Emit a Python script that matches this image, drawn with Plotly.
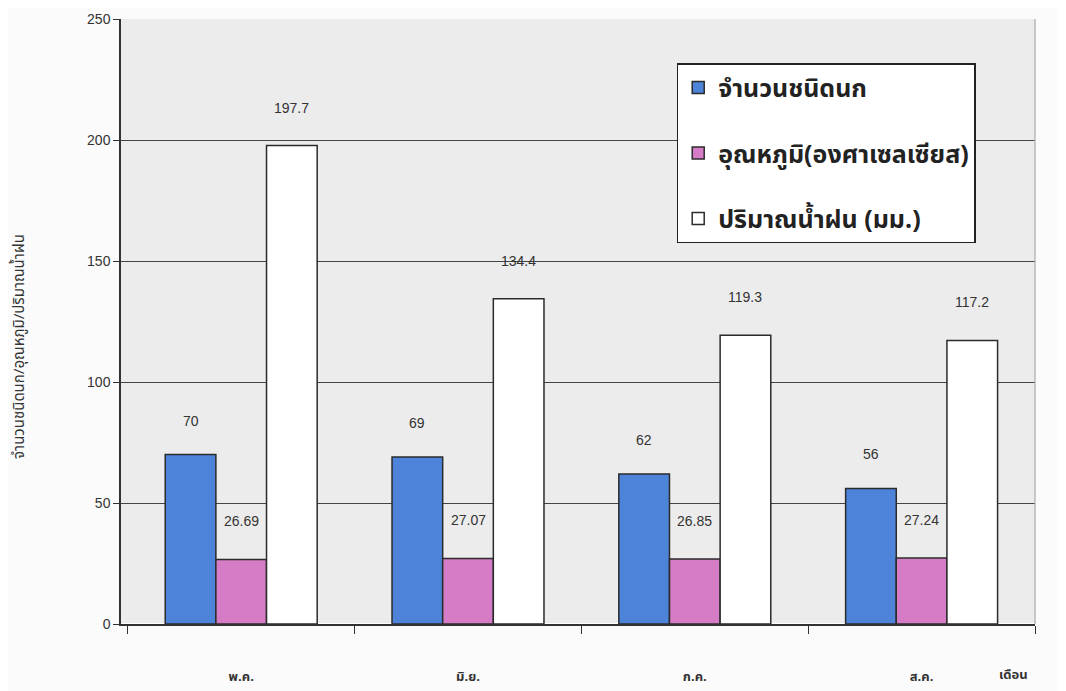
import plotly.graph_objects as go

months = ["พ.ค.", "มิ.ย.", "ก.ค.", "ส.ค."]
bird_species = [70, 69, 62, 56]
temperature = [26.69, 27.07, 26.85, 27.24]
rainfall = [197.7, 134.4, 119.3, 117.2]
bird_labels = ["70", "69", "62", "56"]
temp_labels = ["26.69", "27.07", "26.85", "27.24"]
rain_labels = ["197.7", "134.4", "119.3", "117.2"]

W, H = 1066, 691
ML, MT = 113, 11
plot_w, plot_h = 914, 605
MR = W - ML - plot_w
MB = H - MT - plot_h
bargap = 0.33
x_range = [-0.53, 3.5]
cat_px = plot_w / (x_range[1] - x_range[0])
bar_px = cat_px * (1 - bargap) / 3

outline = dict(color="#2b2b2b", width=1.5)
fig = go.Figure()
fig.add_trace(go.Bar(name="จำนวนชนิดนก", x=months, y=bird_species,
                     marker=dict(color="#4d84d9", line=outline), legendgroup="a"))
fig.add_trace(go.Bar(name="อุณหภูมิ(องศาเซลเซียส)", x=months, y=temperature,
                     marker=dict(color="#d67cc6", line=outline), legendgroup="b"))
fig.add_trace(go.Bar(name="ปริมาณน้ำฝน (มม.)", x=months, y=rainfall,
                     marker=dict(color="#ffffff", line=outline), legendgroup="c"))

annotations = []
for labels, vals, off, ys in [(bird_labels, bird_species, -1, 34),
                              (temp_labels, temperature, 0, 38),
                              (rain_labels, rainfall, 1, 38)]:
    for m, lab, v in zip(months, labels, vals):
        annotations.append(dict(x=m, y=v, xref="x", yref="y", text=lab,
                                showarrow=False, xshift=off * bar_px, yshift=ys,
                                font=dict(size=14, color="#333333",
                                          family="Liberation Sans, Arial")))
annotations.append(dict(x=1.0, y=0, xref="paper", yref="paper", text="<b>เดือน</b>",
                        showarrow=False, xanchor="center", yanchor="middle", yshift=-51,
                        xshift=-22, font=dict(size=13, color="#333333")))
annotations.append(dict(x=0, y=0.458, xref="paper", yref="paper",
                        text="จำนวนชนิดนก/อุณหภูมิ/ปริมาณน้ำฝน", textangle=-90,
                        showarrow=False, xanchor="center", yanchor="middle", xshift=-101,
                        font=dict(size=15, color="#333333")))

fig.update_layout(
    width=W, height=H,
    margin=dict(l=ML, r=MR, t=MT, b=MB, autoexpand=False),
    paper_bgcolor="#fbfbfb",
    plot_bgcolor="#ececec",
    barmode="group",
    bargap=bargap,
    bargroupgap=0,
    font=dict(family="Noto Sans Thai, Noto Sans, Liberation Sans, sans-serif", color="#333333"),
    annotations=annotations,
    shapes=[dict(type="line", xref="paper", yref="paper", x0=1, x1=1, y0=0, y1=1,
                 line=dict(color="#aaaaaa", width=1.2))],
    legend=dict(x=0.608, y=0.927, xanchor="left", yanchor="top",
                bgcolor="#ffffff", bordercolor="#222222", borderwidth=1.5,
                font=dict(size=25, color="#222222", weight="bold"), tracegroupgap=30,
                itemwidth=30),
    showlegend=True,
)
fig.update_xaxes(type="category", range=x_range, showline=True, linecolor="#333333", linewidth=1.5,
                 ticks="outside", tickson="boundaries", ticklen=8, tickcolor="#333333",
                 showgrid=False, ticklabelstandoff=40, automargin=False,
                 tickfont=dict(size=13, color="#333333", weight="bold"))
fig.update_yaxes(range=[0, 250], dtick=50, showline=True, linecolor="#333333", linewidth=1.5,
                 ticks="outside", ticklen=6, tickcolor="#333333", automargin=False,
                 showgrid=True, gridcolor="#444444", gridwidth=1.2,
                 tickfont=dict(size=14, color="#333333", family="Liberation Sans, Arial"))

fig.write_html("out.html")
